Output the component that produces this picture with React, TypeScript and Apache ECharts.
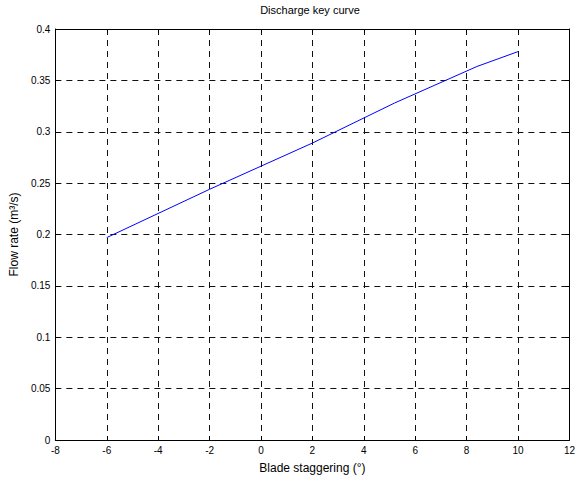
import React, { useEffect, useRef } from "react";
import * as echarts from "echarts";

const bladeAngle = [-6, -2, 2, 5.2, 8.4, 10];
const flowRate = [0.197, 0.244, 0.289, 0.328, 0.3635, 0.378];
const titleText = "Discharge key curve";
const xName = "Blade staggering (°)";
const yName = "Flow rate (m³/s)";

export default function App() {
  const ref = useRef<HTMLDivElement>(null);
  useEffect(() => {
    if (!ref.current) return;
    const chart = echarts.init(ref.current, undefined, { renderer: "svg" });
    const font = "'Liberation Sans', Arial, sans-serif";
    const grid = { left: 50, right: 8, top: 29, bottom: 42 };
    const splitLine = {
      show: true,
      lineStyle: { color: "#111", width: 1, type: [6, 5] as any },
    };
    const axisLine = { show: true, onZero: false, lineStyle: { color: "#000", width: 1 } };
    const axisTick = { show: true, inside: true, length: 4, lineStyle: { color: "#000" } };
    const axisLabel = { color: "#000", fontSize: 10, fontFamily: font, margin: 5 };
    chart.setOption({
      animation: false,
      backgroundColor: "#fff",
      grid,
      graphic: [
        {
          type: "text",
          x: 310,
          y: 10,
          style: {
            text: titleText,
            fill: "#000",
            font: `11px ${font}`,
            textAlign: "center",
            textVerticalAlign: "middle",
          },
        },
      ],
      xAxis: [
        {
          type: "value",
          min: -8,
          max: 12,
          interval: 2,
          axisLine,
          axisTick,
          axisLabel,
          splitLine,
          name: xName,
          nameLocation: "middle",
          nameGap: 22,
          nameTextStyle: { color: "#000", fontSize: 12, fontFamily: font },
        },
        {
          type: "value",
          position: "top",
          min: -8,
          max: 12,
          interval: 2,
          axisLine,
          axisTick,
          axisLabel: { show: false },
          splitLine: { show: false },
        },
      ],
      yAxis: [
        {
          type: "value",
          min: 0,
          max: 0.4,
          interval: 0.05,
          axisLine,
          axisTick,
          axisLabel,
          splitLine,
          name: yName,
          nameLocation: "middle",
          nameGap: 32,
          nameTextStyle: { color: "#000", fontSize: 12, fontFamily: font },
        },
        {
          type: "value",
          position: "right",
          min: 0,
          max: 0.4,
          interval: 0.05,
          axisLine,
          axisTick,
          axisLabel: { show: false },
          splitLine: { show: false },
        },
      ],
      series: [
        {
          type: "line",
          data: bladeAngle.map((x, i) => [x, flowRate[i]]),
          showSymbol: false,
          lineStyle: { color: "#0000ff", width: 1 },
          itemStyle: { color: "#0000ff" },
        },
      ],
    });
    return () => chart.dispose();
  }, []);
  return (
    <div
      ref={ref}
      style={{ position: "absolute", left: 0, top: 0, width: 578, height: 482 }}
    />
  );
}
